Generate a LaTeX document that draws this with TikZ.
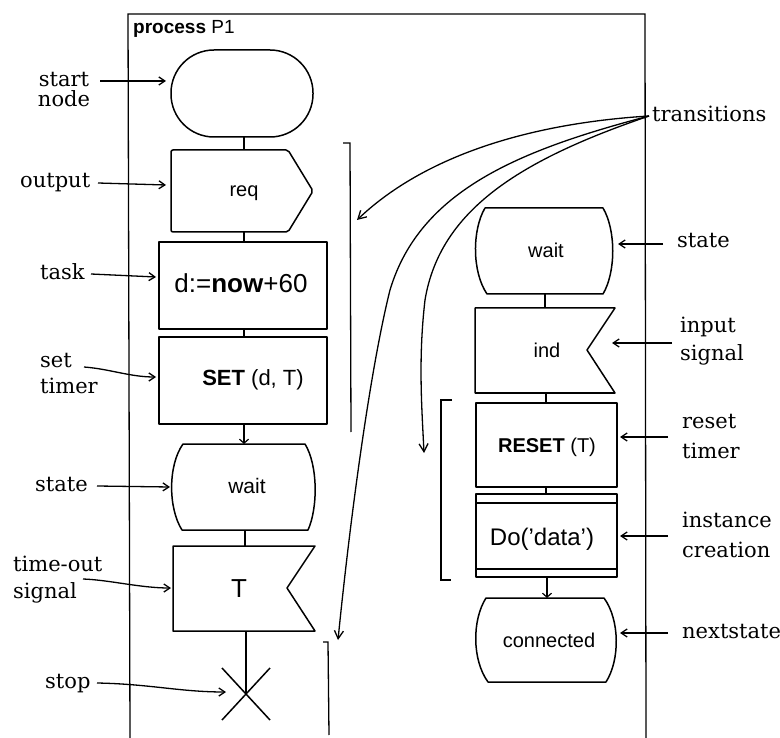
\documentclass[tikz,border=0pt]{standalone}
\usepackage{fontspec}
\setmainfont{Liberation Sans}
\newfontfamily\lblfont{DejaVu Serif}
\usetikzlibrary{arrows.meta}
\begin{document}
\begin{tikzpicture}[x=1pt,y=-1pt,
  shp/.style={draw, line width=1.5pt, line join=round},
  frm/.style={line width=1.3pt},
  conn/.style={line width=1.2pt},
  conarrow/.style={line width=1.2pt, -{Straight Barb[length=4pt,width=9pt]}},
  lblarrow/.style={line width=1.3pt, -{Straight Barb[length=6pt,width=8pt]}},
  trans/.style={line width=1.3pt, -{Straight Barb[length=8pt,width=9pt]}},
  brk/.style={line width=1.3pt},
  lbl/.style={font=\lblfont\fontsize{21}{27}\selectfont, inner sep=0pt, align=left},
  txt/.style={inner sep=0pt, anchor=base}
]
\useasboundingbox (0,0) rectangle (780,738);

% frame
\draw[frm] (130,738) -- (128,14) -- (645,14) -- (646,738);
\node[txt, anchor=base west, font=\fontsize{19}{22}\selectfont] (title) at (133,34) {\textbf{process} P1};

% ---- left column shapes ----
\draw[shp, rounded corners=43pt] (171,50) rectangle (313,137);
\coordinate (startB) at (244,137);

\draw[shp, rounded corners=2pt] (171,150) -- (288,150) -- (313,191) -- (288,232) -- (171,232) -- cycle;
\coordinate (outT) at (244,150);
\coordinate (outB) at (244,232);
\node[txt, font=\fontsize{20}{24}\selectfont] (reqT) at (244,197) {req};

\draw[shp] (159,242) rectangle (327,329);
\coordinate (taskT) at (244,242);
\coordinate (taskB) at (244,329);
\node[txt, font=\fontsize{26}{30}\selectfont] (taskT2) at (241,293) {d:=\textbf{now}+60};

\draw[shp] (159,337) rectangle (327,424);
\coordinate (setT) at (244,337);
\coordinate (setB) at (244,424);
\node[txt, font=\fontsize{22}{26}\selectfont] (setT2) at (253,385) {\textbf{SET} (d, T)};

\draw[shp] (183,444) -- (305,444) .. controls (318,465) and (318,508) .. (308,530) -- (182,530) .. controls (168,508) and (168,465) .. (183,444) -- cycle;
\coordinate (waitAT) at (244,444);
\coordinate (waitAB) at (245,530);
\node[txt, font=\fontsize{21}{24}\selectfont] (waitA) at (247,493) {wait};

\draw[shp] (173,546) -- (315,546) -- (287,588) -- (315,631) -- (173,631) -- cycle;
\coordinate (tT) at (245,546);
\coordinate (tB) at (246,631);
\node[txt, font=\fontsize{26}{30}\selectfont] (tsig) at (239,597) {T};

\draw[shp] (222,668) -- (270,720);
\draw[shp] (222,720) -- (270,668);
\coordinate (stopC) at (246,694);

\draw[conn] (startB) -- (outT);
\draw[conn] (outB) -- (taskT);
\draw[conn] (taskB) -- (setT);
\draw[conarrow] (setB) -- (waitAT);
\draw[conn] (waitAB) -- (tT);
\draw[conn] (tB) -- (stopC);

% ---- right column shapes ----
\draw[shp] (485,208) -- (603,208) .. controls (616,230) and (616,272) .. (603,294) -- (487,294) .. controls (472,272) and (472,230) .. (485,208) -- cycle;
\coordinate (waitBB) at (545,294);
\node[txt, font=\fontsize{20}{24}\selectfont] (waitB) at (546,258) {wait};

\draw[shp] (475,308) -- (615,308) -- (587,350) -- (615,393) -- (475,393) -- cycle;
\coordinate (indT) at (545,308);
\coordinate (indB) at (546,393);
\node[txt, font=\fontsize{20}{24}\selectfont] (indT2) at (547,358) {ind};

\draw[shp] (476,403) rectangle (617,487);
\coordinate (resT) at (546,403);
\coordinate (resB) at (546,487);
\node[txt, font=\fontsize{20}{24}\selectfont] (resT2) at (547,452) {\textbf{RESET} (T)};

\draw[shp] (476,494) rectangle (617,577);
\draw[shp] (476,503) -- (617,503);
\draw[shp] (476,569) -- (617,569);
\coordinate (doT) at (546,494);
\coordinate (doB) at (547,577);
\node[txt, font=\fontsize{24}{28}\selectfont] (doT2) at (542,545) {Do('data')};

\draw[shp] (486,598) -- (604,598) .. controls (620,620) and (620,660) .. (606,682) -- (488,682) .. controls (472,660) and (472,620) .. (486,598) -- cycle;
\coordinate (conT) at (547,598);
\node[txt, font=\fontsize{20}{24}\selectfont] (conT2) at (549,647) {connected};

\draw[conn] (waitBB) -- (indT);
\draw[conn] (indB) -- (resT);
\draw[conn] (resB) -- (doT);
\draw[conarrow] (doB) -- (conT);

% ---- brackets ----
\draw[brk] (343,143) -- (350,143) -- (351,432);
\draw[brk] (323,642) -- (328,642) -- (329,735);
\draw[brk] (452,400) -- (441,400) -- (441,580) -- (451,580);

% ---- transitions ----
\node[lbl, anchor=base west] (Ltrans) at (652,122) {transitions};
\coordinate (tr0) at (649,116);
\coordinate (trA) at (357,220);
\coordinate (trB) at (338,640);
\coordinate (trC) at (424,453);
\draw[trans] (tr0) .. controls (520,124) and (420,160) .. (trA);
\draw[trans] (tr0) .. controls (520,150) and (420,190) .. (390,290) .. controls (370,370) and (350,520) .. (trB);
\draw[trans] (tr0) .. controls (520,160) and (440,210) .. (425,300) .. controls (418,360) and (422,410) .. (trC);

% ---- left labels ----
\node[lbl, anchor=base, align=center, font=\lblfont\fontsize{21}{20}\selectfont] (Lstart) at (64,107) {start\\node};
\coordinate (Sstart) at (100,81);
\coordinate (Astart) at (166,81);
\draw[lblarrow] (Sstart) -- (Astart);

\node[lbl, anchor=base west] (Lout) at (20,188) {output};
\coordinate (Sout) at (98,183);
\coordinate (Aout) at (166,185);
\draw[lblarrow] (Sout) -- (Aout);

\node[lbl, anchor=base west] (Ltask) at (40,280) {task};
\coordinate (Stask) at (91,274);
\coordinate (Atask) at (156,277);
\draw[lblarrow] (Stask) -- (Atask);

\node[lbl, anchor=base west] (Lset) at (40,394) {set\\timer};
\coordinate (Sset) at (84,367);
\coordinate (Aset) at (156,377);
\draw[lblarrow] (Sset) .. controls (110,369) and (130,377) .. (Aset);

\node[lbl, anchor=base west] (Lstate) at (35,491) {state};
\coordinate (Sstate) at (97,486);
\coordinate (Astate) at (170,487);
\draw[lblarrow] (Sstate) -- (Astate);

\node[lbl, anchor=base west] (Ltime) at (13,598) {time-out\\signal};
\coordinate (Stime) at (83,579);
\coordinate (Atime) at (171,588);
\draw[lblarrow] (Stime) .. controls (110,580) and (140,588) .. (Atime);

\node[lbl, anchor=base west] (Lstop) at (45,688) {stop};
\coordinate (Sstop) at (97,683);
\coordinate (Astop) at (226,692);
\draw[lblarrow] (Sstop) .. controls (150,684) and (180,692) .. (Astop);

% ---- right labels ----
\node[lbl, anchor=base west] (Lstate2) at (677,248) {state};
\coordinate (Sstate2) at (663,244);
\coordinate (Astate2) at (618,244);
\draw[lblarrow] (Sstate2) -- (Astate2);

\node[lbl, anchor=base west, font=\lblfont\fontsize{21}{28}\selectfont] (Linput) at (680,360) {input\\signal};
\coordinate (Sinput) at (672,343);
\coordinate (Ainput) at (612,343);
\draw[lblarrow] (Sinput) -- (Ainput);

\node[lbl, anchor=base west, font=\lblfont\fontsize{21}{30}\selectfont] (Lreset) at (682,458) {reset\\timer};
\coordinate (Sreset) at (668,437);
\coordinate (Areset) at (620,437);
\draw[lblarrow] (Sreset) -- (Areset);

\node[lbl, anchor=base west, font=\lblfont\fontsize{21}{30}\selectfont] (Linst) at (682,557) {instance\\creation};
\coordinate (Sinst) at (668,536);
\coordinate (Ainst) at (620,536);
\draw[lblarrow] (Sinst) -- (Ainst);

\node[lbl, anchor=base west] (Lnext) at (682,638) {nextstate};
\coordinate (Snext) at (668,633);
\coordinate (Anext) at (620,633);
\draw[lblarrow] (Snext) -- (Anext);
\end{tikzpicture}
\end{document}
